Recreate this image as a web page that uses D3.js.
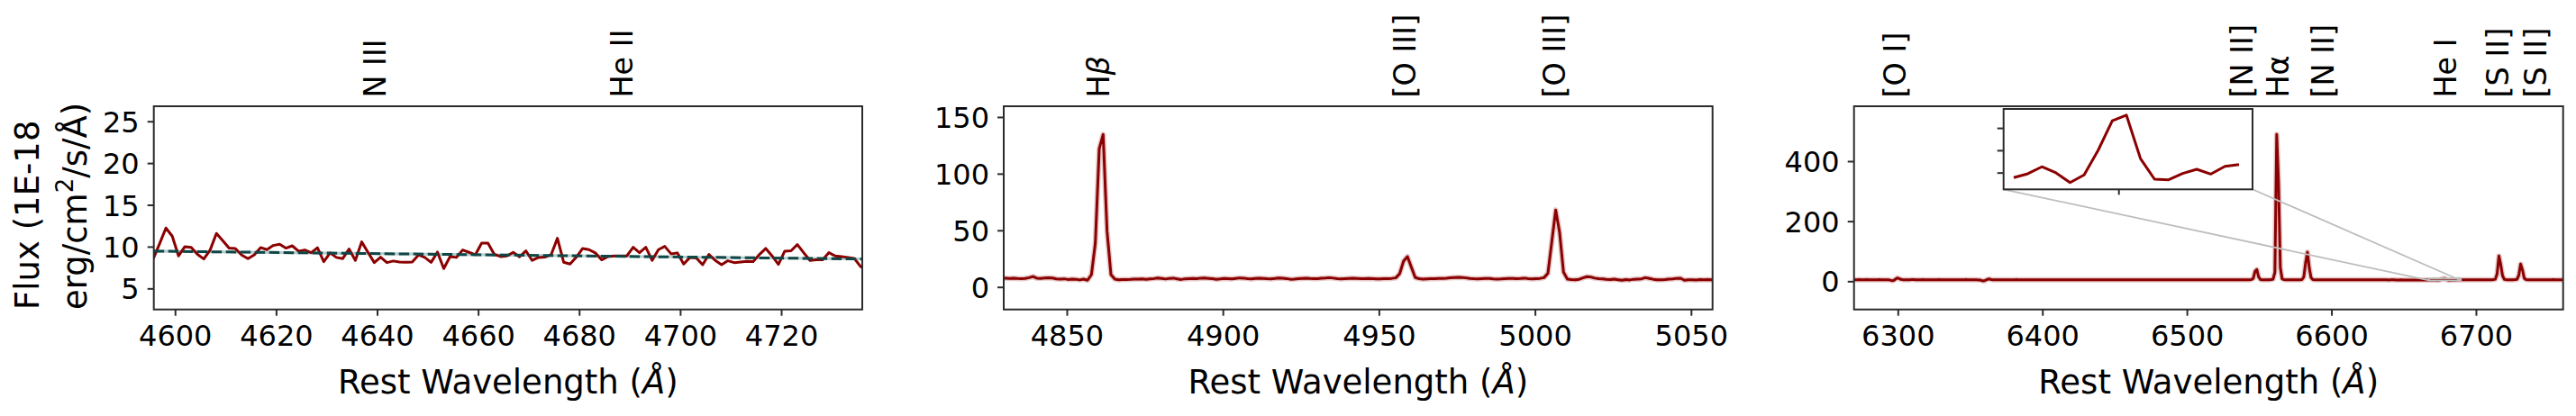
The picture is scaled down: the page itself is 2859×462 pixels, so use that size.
<!DOCTYPE html>
<html><head><meta charset="utf-8">
<script src="https://cdn.jsdelivr.net/npm/d3@7"></script>
<style>body{margin:0;background:#fff}svg{display:block}</style>
</head><body>
<svg id="c" width="2859" height="462"></svg>
<script>
// ---------------- data ----------------
const waveStep = 1.25;
const wave1Start = 4595.7;
const wave2Start = 4829.15;
const wave3Start = 6269.65;

const flux1 = [8.55,10.35,12.23,11.26,8.89,10.0,9.9,9.07,8.52,9.6,
 11.58,10.72,9.82,9.78,9.0,8.57,9.03,9.89,9.64,10.14,
 10.29,9.82,10.1,9.46,9.6,9.28,9.86,8.2,9.25,8.71,
 8.57,9.71,8.35,10.57,9.32,8.09,8.74,8.09,8.28,8.17,
 8.13,8.17,9.0,8.71,8.12,9.35,7.38,8.81,8.71,9.6,
 9.32,9.03,10.43,10.43,9.07,8.81,8.89,9.32,8.78,9.5,
 8.35,8.71,8.74,9.03,11.0,8.13,7.92,8.74,9.78,9.64,
 9.25,8.42,8.81,8.89,8.89,8.89,9.93,9.28,9.93,8.35,
 9.64,10.03,9.14,9.25,7.92,8.71,8.64,7.84,9.07,8.35,
 7.84,8.31,8.09,8.17,8.24,8.2,9.07,9.78,8.89,7.88,
 9.46,9.5,10.25,9.28,8.35,8.42,8.42,9.28,8.89,8.81,
 8.71,8.6,7.63,7.2];

const flux2 = [7.8,7.8,7.6,7.7,7.5,7.4,7.5,8.2,9.2,7.8,7.6,7.9,8.1,7.9,7.1,7.0,7.2,6.6,6.9,6.8,6.2,6.9,5.9,
 10.9,38.7,122,134.6,49.3,10.9,
 6.9,6.3,6.5,6.6,6.7,6.9,7.0,7.2,6.8,7.1,
 7.4,7.9,7.5,7.0,7.6,7.8,7.1,6.6,7.2,7.4,
 7.5,7.3,7.8,7.9,7.6,7.3,6.8,7.1,7.5,7.4,
 7.2,7.6,8.0,7.8,7.4,7.1,7.5,7.8,7.6,7.3,
 7.2,7.5,7.9,7.7,7.4,6.8,7.0,7.4,7.6,7.8,
 7.5,7.3,7.4,7.7,7.9,8.2,7.8,7.4,7.1,7.3,
 7.5,7.7,7.6,7.4,7.3,7.5,7.4,7.2,7.1,7.3,
 7.4,7.6,
 8.0,11.7,22.8,26.8,17.5,8.3,
 7.3,7.0,7.2,7.4,7.3,7.5,7.6,7.8,8.1,8.3,
 8.5,8.4,8.0,7.5,7.3,7.2,7.4,7.6,7.5,7.2,
 7.0,7.1,7.3,7.5,7.6,7.4,7.5,7.8,7.3,7.2,
 7.4,7.6,8.2,
 12,40,68,48,13,6.9,
 6.5,6.3,6.8,8.0,9.1,8.8,7.8,7.4,7.1,6.8,
 6.6,6.9,6.4,5.9,6.5,6.2,6.8,7.0,7.2,8.2,
 7.5,6.8,6.3,6.4,6.6,6.9,7.1,7.6,7.7,5.9,
 6.3,6.4,6.2,6.5,6.4,6.6,6.3,6.4];

const flux3 = [4.9,5.0,4.8,5.1,5.0,4.7,4.9,5.1,5.0,4.8,4.9,5.0,4.8,4.9,5.1,4.9,4.7,4.8,4.9,4.5,
 3.5,2.0,2.5,7.0,11.0,9.0,6.0,5.0,4.9,4.8,
 4.9,5.0,5.2,5.1,4.9,4.8,4.9,5.0,5.1,4.9,
 4.8,4.7,4.9,5.0,4.9,4.8,4.9,5.1,5.0,4.9,
 4.8,4.9,5.0,4.9,4.7,4.8,4.9,5.0,4.9,4.8,
 4.9,5.0,5.1,4.9,4.8,4.7,4.8,4.9,4.6,4.2,
 3.8,1.5,1.0,3.5,6.5,7.5,5.5,4.9,5.0,4.8,
 4.9,5.0,4.8,4.7,4.9,5.0,4.9,4.8,4.9,5.0,5.1,4.9,4.8,4.7,4.8,4.9,5.0,4.9,4.8,4.9,
 5.0,4.9,4.8,4.9,4.7,4.8,4.9,5.0,4.9,4.8,4.9,4.8,4.7,4.8,4.9,5.0,4.9,4.8,4.7,4.8,
 4.9,4.8,4.9,5.0,4.9,4.8,4.7,4.8,4.9,4.8,4.7,4.8,4.9,4.8,4.9,5.0,4.9,4.8,4.9,4.8,
 4.7,4.8,4.9,4.8,4.7,4.8,4.9,5.0,4.9,4.8,4.7,4.8,4.9,4.8,4.7,4.6,4.7,4.8,4.9,4.8,
 4.7,4.8,4.7,4.8,4.9,4.8,4.7,4.6,4.7,4.8,4.9,4.8,4.7,4.8,4.9,4.8,4.7,4.8,4.7,4.6,
 4.7,4.8,4.9,4.8,4.7,4.8,4.7,4.6,4.7,4.8,4.7,4.8,4.9,4.8,4.7,4.6,4.7,4.8,4.7,4.8,
 4.9,4.8,4.7,4.8,4.7,4.6,4.7,4.8,4.9,4.8,4.7,4.8,4.7,4.8,4.9,5.0,4.9,4.8,4.9,5.0,
 5.2,9.0,33,39,14,5.6,
 4.9,4.8,4.7,4.8,4.9,5.1,
 7,30,489,330,45,8,
 5.2,4.9,4.8,4.7,4.8,4.9,4.8,4.7,4.9,5.0,
 5.5,14,62,97,45,12,5.3,
 4.9,4.8,4.7,4.8,4.7,4.6,4.7,4.8,4.7,4.6,4.7,4.8,4.7,4.6,4.5,4.6,4.7,4.6,4.5,4.6,
 4.7,4.6,4.5,4.6,4.5,4.4,4.5,4.6,4.5,4.4,4.5,4.6,4.5,4.4,4.3,4.4,4.5,4.4,4.3,4.4,
 4.3,4.2,4.3,4.4,4.3,4.2,4.1,4.2,4.3,4.2,4.1,4.0,4.1,4.2,4.1,4.0,3.9,4.0,3.9,3.8,
 3.9,3.8,3.7,3.6,
 3.55,3.9,4.52,3.98,3.11,3.79,6.01,8.65,9.15,5.26,3.41,3.36,3.92,4.3,3.87,4.56,4.72,
 4.6,4.5,4.6,4.7,4.6,4.7,4.8,4.7,4.8,4.9,4.8,4.7,4.8,4.9,5.0,4.9,4.8,4.9,5.1,
 6.5,25,84,55,18,6.2,
 5.0,4.9,4.8,4.9,5.0,5.1,
 6.3,20,57,38,10,5.4,
 4.9,4.8,4.9,5.0,4.9,4.8,4.7,4.8,4.9,5.0,4.9,4.8,4.9,5.0,5.1,4.9,4.8,4.9,5.0,4.9,4.8];

// continuum fit (panel 1)
const contWave = [4595.8, 4736.05];
const contFlux = [9.46, 8.52];

// inset (panel 3): slice of flux3
const insetFirstIdx = 319;
const insetLastIdx = 335;
const insetXRange = [6667.5, 6689.6];
const insetYRange = [2.5, 9.7];
const insetXTicks = [6677.7];
const insetYTicks = [4, 6, 8];

// ticks
const xTicks1 = [4600, 4620, 4640, 4660, 4680, 4700, 4720];
const yTicks1 = [5, 10, 15, 20, 25];
const xTicks2 = [4850, 4900, 4950, 5000, 5050];
const yTicks2 = [0, 50, 100, 150];
const xTicks3 = [6300, 6400, 6500, 6600, 6700];
const yTicks3 = [0, 200, 400];

// line identifications
const lineNames1 = ["N III", "He II"];
const linePos1 = [4640, 4689];
const lineNames2 = ["Hβ", "[O III]", "[O III]"];
const linePos2 = [4861, 4959, 5007];
const lineNames3 = ["[O I]", "[N II]", "Hα", "[N II]", "He I", "[S II]", "[S II]"];
const linePos3 = [6300, 6540, 6565, 6596, 6681, 6717, 6743];

// ---------------- drawing ----------------
const svg = d3.select("#c");
svg.append("rect").attr("width", 2859).attr("height", 462).attr("fill", "#fff");
const FONT = "DejaVu Sans, Liberation Sans, sans-serif";
const FRAME = "#2b2b2b";
const RED = "#8b0000";
const TOP = 118, BOTTOM = 343.7;

const panels = [
  {flux: flux1, start: wave1Start, xDom: [4595.8, 4736.05], yDom: [2.48, 26.8], left: 170.7, right: 957,
   xTicks: xTicks1, yTicks: yTicks1, names: lineNames1, pos: linePos1, halo: false},
  {flux: flux2, start: wave2Start, xDom: [4829.8, 5056.9], yDom: [-19.87, 159.5], left: 1114, right: 1900.7,
   xTicks: xTicks2, yTicks: yTicks2, names: lineNames2, pos: linePos2, halo: true},
  {flux: flux3, start: wave3Start, xDom: [6269.7, 6760.3], yDom: [-94.2, 583], left: 2057.7, right: 2844.7,
   xTicks: xTicks3, yTicks: yTicks3, names: lineNames3, pos: linePos3, halo: true}
];

const defs = svg.append("defs");

panels.forEach((p, k) => {
  const x = d3.scaleLinear().domain(p.xDom).range([p.left, p.right]);
  const y = d3.scaleLinear().domain(p.yDom).range([BOTTOM, TOP]);
  p.x = x; p.y = y;
  const g = svg.append("g");

  defs.append("clipPath").attr("id", "clip" + k).append("rect")
    .attr("x", p.left).attr("y", TOP).attr("width", p.right - p.left).attr("height", BOTTOM - TOP);

  const pts = p.flux.map((v, i) => [p.start + i * waveStep, v]);
  const line = d3.line().x(d => x(d[0])).y(d => y(d[1]));
  const plot = g.append("g").attr("clip-path", `url(#clip${k})`);

  if (k === 0) {
    const cpts = contWave.map((w, i) => [w, contFlux[i]]);
    plot.append("path").datum(cpts).attr("d", line).attr("fill", "none")
      .attr("stroke", "#7fa8a8").attr("stroke-opacity", 0.55).attr("stroke-width", 3.2);
  }
  if (p.halo) {
    plot.append("path").datum(pts).attr("d", line).attr("fill", "none")
      .attr("stroke", RED).attr("stroke-opacity", 0.22).attr("stroke-width", 6)
      .attr("stroke-linejoin", "round");
  }
  plot.append("path").datum(pts).attr("d", line).attr("fill", "none")
    .attr("stroke", RED).attr("stroke-width", 3).attr("stroke-linejoin", "round");
  if (k === 0) {
    const cpts = contWave.map((w, i) => [w, contFlux[i]]);
    plot.append("path").datum(cpts).attr("d", line).attr("fill", "none")
      .attr("stroke", "#0f4646").attr("stroke-width", 3).attr("stroke-dasharray", "11.5,4.5");
  }

  // axes
  const xa = g.append("g").attr("transform", `translate(0,${BOTTOM})`)
    .call(d3.axisBottom(x).tickValues(p.xTicks).tickSize(7).tickFormat(d3.format("d")));
  xa.select(".domain").remove();
  xa.selectAll(".tick line").attr("stroke", FRAME).attr("stroke-width", 2);
  xa.selectAll(".tick text").attr("y", 40.6).attr("dy", null)
    .attr("font-family", FONT).attr("font-size", 32).attr("fill", "#000");

  const ya = g.append("g").attr("transform", `translate(${p.left},0)`)
    .call(d3.axisLeft(y).tickValues(p.yTicks).tickSize(7).tickFormat(d3.format("d")));
  ya.select(".domain").remove();
  ya.selectAll(".tick line").attr("stroke", FRAME).attr("stroke-width", 2);
  ya.selectAll(".tick text").attr("x", -16).attr("dy", "0.36em")
    .attr("font-family", FONT).attr("font-size", 32).attr("fill", "#000");

  g.append("rect").attr("x", p.left).attr("y", TOP)
    .attr("width", p.right - p.left).attr("height", BOTTOM - TOP)
    .attr("fill", "none").attr("stroke", FRAME).attr("stroke-width", 2);

  // x label
  const xl = g.append("text").attr("x", (p.left + p.right) / 2).attr("y", 436.7)
    .attr("text-anchor", "middle").attr("font-family", FONT).attr("font-size", 37).attr("fill", "#000");
  xl.append("tspan").text("Rest Wavelength (");
  xl.append("tspan").attr("font-style", "italic").text("Å");
  xl.append("tspan").text(")");

  // line labels
  p.names.forEach((nm, i) => {
    const t = g.append("text")
      .attr("transform", `translate(${x(p.pos[i])},108.6) rotate(-90)`)
      .attr("y", 9).attr("text-anchor", "start")
      .attr("font-family", FONT).attr("font-size", 33.5).attr("fill", "#000");
    if (nm === "Hβ") {
      t.append("tspan").text("H");
      t.append("tspan").attr("font-style", "italic").text("β");
    } else {
      t.text(nm);
    }
  });
});

// y label (panel 1)
const yl1 = svg.append("text").attr("transform", "translate(43,344) rotate(-90)")
  .attr("font-family", FONT).attr("font-size", 37).attr("fill", "#000").text("Flux (1E-18");
const yl2 = svg.append("text").attr("transform", "translate(96,344) rotate(-90)")
  .attr("font-family", FONT).attr("font-size", 37).attr("fill", "#000");
yl2.append("tspan").text("erg/cm");
yl2.append("tspan").attr("font-size", 26).attr("dy", -15).text("2");
yl2.append("tspan").attr("dy", 15).text("/s/Å)");

// ---------------- inset in panel 3 ----------------
const P3 = panels[2];
const IL = 2223.7, IR = 2500, IT = 121, IB = 210.3;
const ix = d3.scaleLinear().domain(insetXRange).range([IL, IR]);
const iy = d3.scaleLinear().domain(insetYRange).range([IB, IT]);
const GRAY = "#bdbdbd";
const ig = svg.append("g");
// region marker + connectors
ig.append("rect").attr("x", P3.x(insetXRange[0])).attr("y", P3.y(insetYRange[1]))
  .attr("width", P3.x(insetXRange[1]) - P3.x(insetXRange[0]))
  .attr("height", P3.y(insetYRange[0]) - P3.y(insetYRange[1]))
  .attr("fill", "none").attr("stroke", GRAY).attr("stroke-width", 1.8);
ig.append("line").attr("x1", IL).attr("y1", IB)
  .attr("x2", P3.x(insetXRange[0])).attr("y2", P3.y(insetYRange[0]))
  .attr("stroke", GRAY).attr("stroke-width", 1.8);
ig.append("line").attr("x1", IR).attr("y1", IB)
  .attr("x2", P3.x(insetXRange[1])).attr("y2", P3.y(insetYRange[0]))
  .attr("stroke", GRAY).attr("stroke-width", 1.8);

ig.append("rect").attr("x", IL).attr("y", IT).attr("width", IR - IL).attr("height", IB - IT).attr("fill", "#fff");
defs.append("clipPath").attr("id", "clipInset").append("rect")
  .attr("x", IL).attr("y", IT).attr("width", IR - IL).attr("height", IB - IT);
const ipts = flux3.slice(insetFirstIdx, insetLastIdx + 1)
  .map((v, i) => [wave3Start + (insetFirstIdx + i) * waveStep, v]);
ig.append("g").attr("clip-path", "url(#clipInset)").append("path").datum(ipts)
  .attr("d", d3.line().x(d => ix(d[0])).y(d => iy(d[1])))
  .attr("fill", "none").attr("stroke", RED).attr("stroke-width", 3).attr("stroke-linejoin", "round");
const ixa = ig.append("g").attr("transform", `translate(0,${IB})`)
  .call(d3.axisBottom(ix).tickValues(insetXTicks).tickSize(6).tickFormat(""));
ixa.select(".domain").remove();
ixa.selectAll(".tick line").attr("stroke", FRAME).attr("stroke-width", 2);
const iya = ig.append("g").attr("transform", `translate(${IL},0)`)
  .call(d3.axisLeft(iy).tickValues(insetYTicks).tickSize(7).tickFormat(""));
iya.select(".domain").remove();
iya.selectAll(".tick line").attr("stroke", FRAME).attr("stroke-width", 2);
ig.append("rect").attr("x", IL).attr("y", IT).attr("width", IR - IL).attr("height", IB - IT)
  .attr("fill", "none").attr("stroke", FRAME).attr("stroke-width", 2);
</script>
</body></html>
